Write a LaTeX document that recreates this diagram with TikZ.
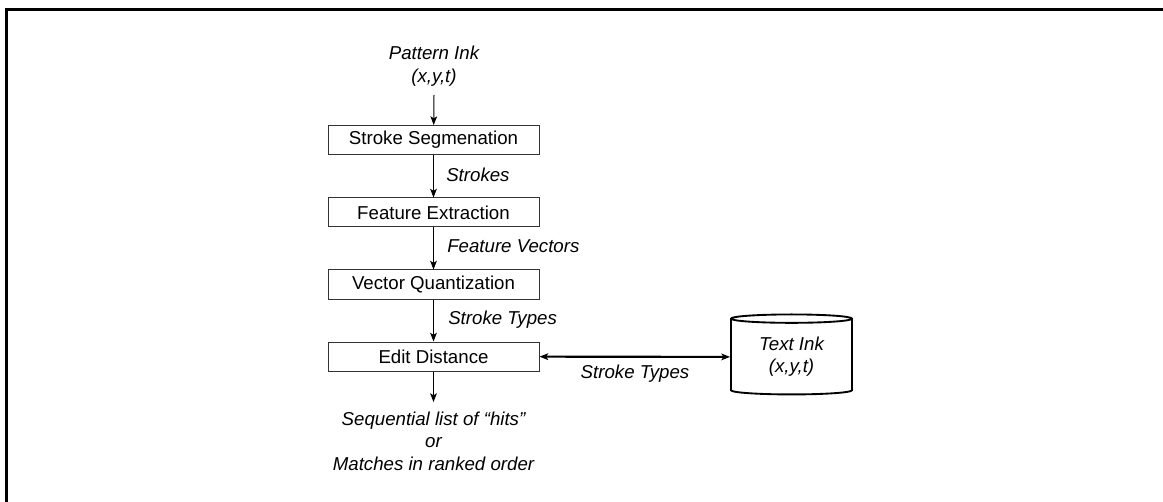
\documentclass[tikz,border=0pt]{standalone}
\usepackage{fontspec}
\setmainfont{Liberation Sans}
\usepackage{tikz}
\usetikzlibrary{shapes.geometric, arrows.meta, positioning}

\begin{document}
\begin{tikzpicture}[
        x=0.75pt, y=-0.75pt,
        font=\fontsize{14}{17}\selectfont,
        box/.style={rectangle, draw=black!80, line width=0.75pt, minimum height=21.75pt, minimum width=158.25pt, inner sep=0pt},
        lbl/.style={font=\fontsize{14}{17}\selectfont\itshape, align=center, inner sep=0pt},
        db/.style={cylinder, shape border rotate=90, draw, line width=1.4pt, aspect=0.13, minimum width=90.75pt, minimum height=60pt, align=center, font=\fontsize{14}{16.5}\selectfont\itshape, inner sep=0pt},
        arrow/.style={-{Stealth[length=6.5pt, width=5pt, inset=1.5pt]}, line width=0.75pt},
        darrow/.style={{Stealth[length=6.5pt, width=5pt, inset=1.5pt]}-{Stealth[length=6.5pt, width=5pt, inset=1.5pt]}, line width=1.6pt}
    ]
        \useasboundingbox (0,0) rectangle (1163,502);
        \draw[line width=2.6pt] (6.5,502) -- (6.5,9.5) -- (1163,9.5);

        \node[lbl] (P) at (434,66) {Pattern Ink\\(x,y,t)};
        \node[box] (S) at (433.5,140) {Stroke Segmenation};
        \node[box] (F) at (433.5,212.5) {Feature Extraction};
        \node[box] (V) at (433.5,284.5) {Vector Quantization};
        \node[box] (E) at (433.5,356.5) {Edit Distance};
        \node[lbl] (O) at (433.5,441) {Sequential list of “hits”\\or\\Matches in ranked order};
        \node[db] (T) at (791.5,357) {Text Ink\\(x,y,t)};

        \node[lbl, anchor=west] (L1) at (446,175) {Strokes};
        \node[lbl, anchor=west] (L2) at (447,246) {Feature Vectors};
        \node[lbl, anchor=west] (L3) at (448,320) {Stroke Types};
        \node[lbl] (L4) at (635,374) {Stroke Types};

        \draw[arrow] (P.south |- 0,95) -- (S);
        \draw[arrow] (S) -- (F);
        \draw[arrow] (F) -- (V);
        \draw[arrow] (V) -- (E);
        \draw[arrow] (E) -- (E.south |- 0,402);
        \draw[darrow] (E) -- (T);
    \end{tikzpicture}
\end{document}
